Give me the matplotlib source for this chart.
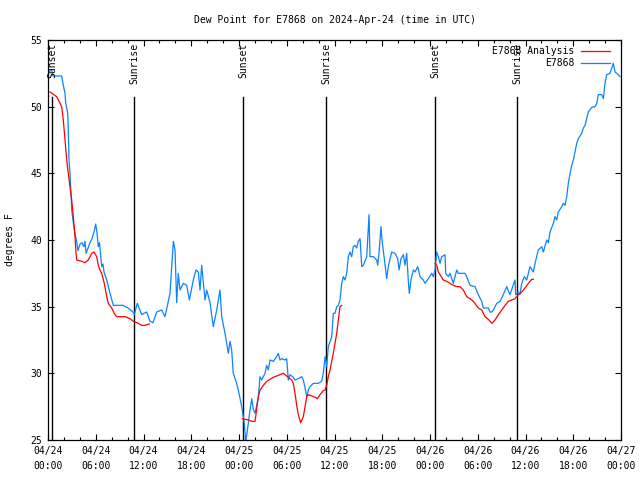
import datetime as dt
import numpy as np
import matplotlib
matplotlib.use("Agg")
import matplotlib.pyplot as plt
import matplotlib.dates as mdates

START = dt.datetime(2024, 4, 24)
END = dt.datetime(2024, 4, 27)

# station observations: hours after 04/24 00:00 UTC, dew point (F)
obs_hours = [
    0.04, 0.46, 0.63, 1.72, 1.92, 2.14, 2.22, 2.48, 2.55, 2.64, 2.76, 2.89, 2.98,
    3.18, 3.39, 3.61, 3.77, 4.02, 4.27, 4.52, 4.65, 4.78, 5.03, 5.28, 5.53, 5.78,
    6.00, 6.16, 6.32, 6.47, 6.75, 6.91, 7.04, 7.38, 7.54, 7.79, 8.21, 8.83, 9.42,
    10.05, 10.68, 10.84, 11.22, 11.77, 12.40, 12.82, 13.19, 13.66, 14.29, 14.70,
    15.12, 15.33, 15.75, 15.96, 16.17, 16.37, 16.59, 17.00, 17.43, 17.76, 18.26,
    18.60, 18.89, 19.10, 19.31, 19.73, 19.94, 20.36, 20.77, 21.20, 21.61, 21.83,
    22.24, 22.66, 22.87, 23.08, 23.28, 23.71, 23.91, 24.34, 24.67, 24.84, 25.17,
    25.38, 25.60, 25.80, 26.01, 26.23, 26.43, 26.64, 26.85, 27.27, 27.48, 27.68,
    27.90, 28.31, 28.74, 28.94, 29.15, 29.37, 29.78, 29.99, 30.20, 30.41, 30.82,
    31.04, 31.45, 31.88, 32.08, 32.30, 32.51, 32.71, 32.92, 33.34, 33.97, 34.39,
    34.59, 34.81, 35.02, 35.22, 35.65, 35.85, 36.06, 36.28, 36.48, 36.69, 36.91,
    37.11, 37.32, 37.53, 37.74, 37.95, 38.16, 38.36, 38.58, 38.79, 38.99, 39.21,
    39.42, 39.62, 39.83, 40.05, 40.34, 40.46, 40.88, 41.30, 41.43, 41.59, 41.84,
    42.01, 42.26, 42.56, 42.76, 42.98, 43.19, 43.60, 43.94, 44.11, 44.36, 44.65,
    44.86, 45.07, 45.28, 45.40, 45.61, 45.90, 46.12, 46.46, 46.75, 47.16, 47.37,
    47.79, 48.22, 48.42, 48.63, 48.84, 49.05, 49.26, 49.47, 49.89, 49.97, 50.30,
    50.51, 50.93, 51.14, 51.36, 51.56, 51.99, 52.40, 52.61, 53.03, 53.66, 54.07,
    54.50, 54.70, 55.33, 55.54, 55.76, 55.96, 56.38, 56.80, 57.21, 57.64, 58.05,
    58.34, 58.68, 58.77, 59.10, 59.31, 59.52, 59.85, 60.15, 60.57, 60.98, 61.20,
    61.41, 61.61, 62.04, 62.24, 62.67, 62.87, 63.08, 63.50, 63.71, 63.92, 64.12,
    64.55, 64.75, 64.97, 65.18, 65.38, 65.60, 65.81, 66.01, 66.22, 66.44, 66.64,
    67.06, 67.27, 67.48, 67.69, 67.89, 68.32, 68.74, 68.95, 69.15, 69.58, 69.78,
    69.99, 70.20, 70.62, 71.03, 71.25, 71.66, 71.88,
]
obs_dewpt = [
    52.6, 52.75, 52.3, 52.3, 51.6, 51.0, 50.3, 49.5, 48.25, 46.0, 45.0, 43.5, 42.25,
    41.3, 40.5, 39.85, 39.2, 39.7, 39.8, 39.5, 39.9, 39.0, 39.4, 39.8, 40.1, 40.6,
    41.2, 40.5, 39.5, 39.8, 38.0, 38.2, 37.6, 37.0, 36.6, 36.0, 35.1, 35.1, 35.1,
    34.9, 34.6, 34.4, 35.25, 34.4, 34.6, 33.9, 33.8, 34.6, 34.75, 34.25,
    35.4, 36.0, 39.9, 39.25, 35.3, 37.5, 36.25, 36.75, 36.6, 35.5, 37.0,
    37.75, 37.6, 36.25, 38.1, 35.5, 36.25, 35.3, 33.5, 34.75, 36.25, 34.25,
    33.0, 31.5, 32.4, 31.75, 30.0, 29.25, 28.75, 27.5, 26.25, 24.8, 26.25,
    27.25, 28.1, 27.3, 27.0, 27.6, 28.25, 29.75, 29.5, 30.0, 30.6, 30.25,
    31.0, 30.9, 31.25, 31.5, 31.0, 31.1, 31.0, 31.1, 29.5, 29.9, 29.7,
    29.5, 29.6, 29.75, 29.5, 28.9, 28.25, 28.75, 29.0, 29.25, 29.25, 29.4,
    30.0, 31.25, 30.5, 32.0, 32.75, 34.5, 34.5, 35.0, 35.1, 35.5, 36.75,
    37.25, 37.0, 37.5, 38.75, 39.1, 38.75, 39.5, 39.6, 39.4, 39.9, 40.1,
    38.0, 38.1, 38.4, 38.75, 41.9, 38.75, 38.75, 38.5, 38.1, 39.0, 41.0,
    39.75, 38.6, 37.1, 38.0, 38.6, 39.1, 39.0, 38.6, 37.75, 38.6, 38.9,
    38.1, 39.0, 36.9, 36.0, 37.0, 37.75, 37.6, 38.0, 37.25, 37.0, 36.75,
    37.1, 37.5, 37.25, 37.75, 39.1, 38.75, 38.25, 38.75, 38.9, 37.5, 37.25,
    37.5, 36.75, 37.25, 37.75, 37.5, 37.5, 37.5, 37.25, 36.6, 36.5, 35.9,
    35.4, 34.9, 34.9, 34.6, 34.6, 34.75, 35.25, 35.4, 35.9, 36.5, 35.9,
    36.4, 37.0, 35.9, 36.1, 35.9, 36.75, 37.25, 37.0, 38.0, 37.6, 38.25,
    38.75, 39.25, 39.5, 39.1, 40.0, 39.8, 40.6, 41.25, 41.75, 41.5, 42.1,
    42.5, 42.75, 42.6, 43.25, 44.25, 45.0, 45.6, 46.0, 46.6, 47.25, 47.6,
    48.0, 48.4, 48.6, 49.1, 49.6, 49.95, 50.0, 50.25, 50.9, 50.9, 50.6,
    51.75, 52.4, 52.5, 53.25, 52.6, 52.4, 52.25,
]

# analysis values (NaN marks the gaps between analysis runs)
ana_hours = [
    0.25, 1.09, 1.51, 1.72, 1.92, 2.14, 2.35, 2.55, 2.76, 2.98, 3.18, 3.39, 3.52,
    3.61, 4.23, 4.65, 5.06, 5.49, 5.78, 6.12, 6.32, 6.53, 6.75, 7.07, 7.38, 7.58,
    8.00, 8.42, 8.63, 9.68, 10.30, 10.72, 11.35, 11.77, 12.19, 12.73,
    18.0,
    24.42, 25.17, 25.60, 26.01, 26.10, 26.23, 26.43, 26.64, 27.06, 27.48, 27.90,
    28.31, 28.74, 29.15, 29.57, 29.78, 30.20, 30.62, 30.82, 31.04, 31.25, 31.45,
    31.75, 32.08, 32.30, 32.51, 32.71, 33.14, 33.55, 33.84, 34.18, 34.59, 34.81,
    35.02, 35.22, 35.44, 35.65, 35.85, 36.06, 36.28, 36.40, 36.57, 36.69, 36.91,
    42.0,
    48.63, 48.84, 49.05, 49.26, 49.67, 50.10, 50.51, 50.93, 51.36, 51.77, 52.19,
    52.61, 53.03, 53.44, 54.07, 54.50, 54.91, 55.33, 55.76, 56.17, 56.59, 57.01,
    57.43, 57.84, 58.27, 58.68, 59.10, 59.52, 59.94, 60.36, 60.78, 60.98,
]
ana_dewpt = [
    51.1, 50.75, 50.25, 50.0, 49.0, 47.5, 46.0, 45.0, 44.0, 43.0, 41.75, 40.25, 39.0,
    38.5, 38.4, 38.3, 38.5, 39.0, 39.1, 38.75, 38.1, 37.75, 37.5, 36.75, 35.75, 35.25,
    34.9, 34.4, 34.25, 34.25, 34.1, 33.9, 33.75, 33.6, 33.6, 33.7,
    np.nan,
    26.6, 26.5, 26.4, 26.4, 26.75, 27.4, 28.25, 28.75, 29.1, 29.4, 29.55,
    29.7, 29.8, 29.9, 30.0, 29.9, 29.7, 29.5, 29.25, 28.5, 27.6, 26.9,
    26.3, 26.75, 27.5, 28.25, 28.4, 28.3, 28.2, 28.1, 28.4, 28.7, 28.75,
    29.1, 29.75, 30.25, 30.9, 31.5, 32.25, 33.0, 33.6, 34.4, 35.0, 35.1,
    np.nan,
    38.25, 38.1, 37.6, 37.4, 37.0, 36.9, 36.75, 36.6, 36.5, 36.5, 36.25,
    35.75, 35.6, 35.4, 34.9, 34.75, 34.25, 34.05, 33.75, 34.0, 34.4, 34.75,
    35.1, 35.4, 35.5, 35.6, 35.9, 36.1, 36.4, 36.75, 37.05, 37.05,
]

# sunset / sunrise markers (hours after start)
sun_hours = [0.50, 10.81, 24.50, 34.93, 48.63, 58.93]
sun_labels = ["Sunset", "Sunrise", "Sunset", "Sunrise", "Sunset", "Sunrise"]

FONT = "DejaVu Sans Mono"
RED = "#ff0000"
BLUE = "#0a84ff"

plt.rcParams.update({
    "font.family": FONT,
    "font.size": 7,
})


def to_time(hours):
    return [START + dt.timedelta(hours=float(h)) for h in hours]


fig = plt.figure(figsize=(6.4, 4.8), dpi=100)
ax = fig.add_axes([48 / 640, 1 - 440 / 480, 573 / 640, 400 / 480])

ax.plot(to_time(ana_hours), ana_dewpt, color=RED, linewidth=0.9, zorder=3)
ax.plot(to_time(obs_hours), obs_dewpt, color=BLUE, linewidth=0.9, zorder=2)

# sunrise / sunset lines, with the label standing above each
for t, lab in zip(to_time(sun_hours), sun_labels):
    ax.plot([t, t], [25, 50.75], color="black", linewidth=1.0, zorder=1)
    ax.text(t, 54.8, lab, rotation=90, ha="center", va="top", fontsize=7,
            zorder=4)

ax.set_xlim(START, END)
ax.set_ylim(25, 55)
ax.set_yticks(range(25, 56, 5))
ax.xaxis.set_major_locator(mdates.HourLocator(byhour=range(0, 24, 6)))
ax.xaxis.set_minor_locator(mdates.HourLocator(interval=2))
ax.xaxis.set_major_formatter(mdates.DateFormatter("%m/%d\n%H:%M"))
ax.tick_params(which="both", direction="in", top=True, right=True)
ax.tick_params(which="major", length=4.5, width=0.8, pad=4)
ax.tick_params(which="minor", length=2.2, width=0.8)
for lab in ax.get_xticklabels():
    lab.set_linespacing(1.65)
for spine in ax.spines.values():
    spine.set_linewidth(0.9)

ax.set_title("Dew Point for E7868 on 2024-Apr-24 (time in UTC)", fontsize=7, pad=12)
ax.set_ylabel("degrees F", fontsize=7, labelpad=11)

# gnuplot-style key: right-aligned text followed by the line sample
key = [("E7868 Analysis", RED, 0.973), ("E7868", BLUE, 0.942)]
for name, col, yk in key:
    ax.text(0.918, yk, name, transform=ax.transAxes, ha="right", va="center",
            fontsize=7, zorder=5)
    ax.plot([0.930, 0.981], [yk, yk], transform=ax.transAxes, color=col,
            linewidth=0.9, zorder=5)

fig.savefig("out.png", dpi=100, facecolor="white")
